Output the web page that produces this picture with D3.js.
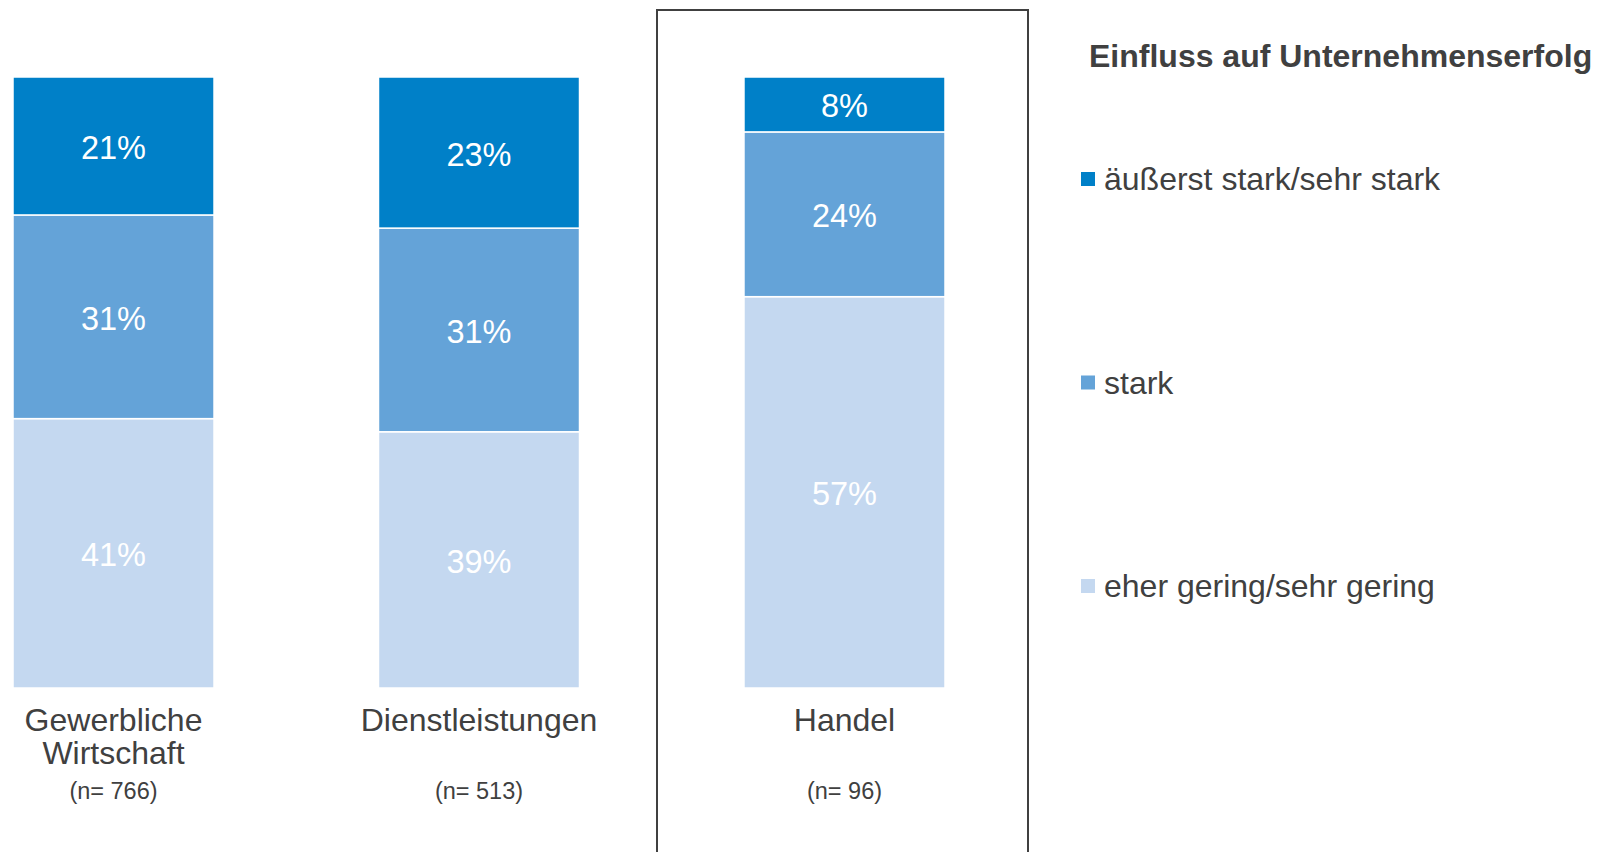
<!DOCTYPE html>
<html>
<head>
<meta charset="utf-8">
<script src="https://cdn.jsdelivr.net/npm/d3@7"></script>
<style>
  body { margin: 0; background: #fff; }
  svg { display: block; font-family: "Liberation Sans", Arial, sans-serif; }
</style>
</head>
<body>
<svg width="1600" height="852"></svg>
<script>
// data
var categories = ["Gewerbliche Wirtschaft", "Dienstleistungen", "Handel"];
var labelLines = [["Gewerbliche", "Wirtschaft"], ["Dienstleistungen"], ["Handel"]];
var sampleSizes = ["(n= 766)", "(n= 513)", "(n= 96)"];
var seriesNames = ["eher gering/sehr gering", "stark", "äußerst stark/sehr stark"];
var gering = [41, 39, 57];
var stark = [31, 31, 24];
var sehrStark = [21, 23, 8];
var legendTitle = "Einfluss auf Unternehmenserfolg";

var colors = ["#c4d8f0", "#64a3d8", "#0080c8"];
var textGrey = "#404040";

var svg = d3.select("svg");

var rows = categories.map(function (c, i) {
  return { cat: c, "eher gering/sehr gering": gering[i], "stark": stark[i], "äußerst stark/sehr stark": sehrStark[i] };
});

// bars are filled to 100% of the answers shown
var stacked = d3.stack().keys(seriesNames).offset(d3.stackOffsetExpand)(rows);

var x = d3.scaleBand()
  .domain(categories)
  .range([13, 945])
  .paddingInner(0.45)
  .paddingOuter(0);

var y = d3.scaleLinear().domain([0, 1]).range([688, 77]);

var color = d3.scaleOrdinal().domain(seriesNames).range(colors);

// frame around Handel
svg.append("rect")
  .attr("x", 657)
  .attr("y", 10)
  .attr("width", 371)
  .attr("height", 860)
  .attr("fill", "none")
  .attr("stroke", textGrey)
  .attr("stroke-width", 2);

var layers = svg.append("g")
  .selectAll("g")
  .data(stacked)
  .enter()
  .append("g")
  .attr("fill", function (d) { return color(d.key); });

layers.selectAll("rect")
  .data(function (d) { return d; })
  .enter()
  .append("rect")
  .attr("x", function (d) { return x(d.data.cat); })
  .attr("y", function (d) { return y(d[1]); })
  .attr("width", x.bandwidth())
  .attr("height", function (d) { return y(d[0]) - y(d[1]); })
  .attr("stroke", "#fff")
  .attr("stroke-width", 1.5);

// percentage labels
layers.each(function (layer) {
  d3.select(this).selectAll("text")
    .data(layer)
    .enter()
    .append("text")
    .attr("x", function (d) { return x(d.data.cat) + x.bandwidth() / 2; })
    .attr("y", function (d) { return (y(d[0]) + y(d[1])) / 2; })
    .attr("dy", "0.4em")
    .attr("text-anchor", "middle")
    .attr("fill", "#fff")
    .style("font-size", "32.5px")
    .text(function (d) { return d.data[layer.key] + "%"; });
});

// category labels
var catLabels = svg.append("g")
  .selectAll("text")
  .data(categories)
  .enter()
  .append("text")
  .attr("x", function (d) { return x(d) + x.bandwidth() / 2; })
  .attr("y", 731)
  .attr("text-anchor", "middle")
  .attr("fill", textGrey)
  .style("font-size", "32px");

catLabels.selectAll("tspan")
  .data(function (d, i) { return labelLines[i]; })
  .enter()
  .append("tspan")
  .attr("x", function () { var c = d3.select(this.parentNode).datum(); return x(c) + x.bandwidth() / 2; })
  .attr("dy", function (d, i) { return i === 0 ? 0 : 33; })
  .text(function (d) { return d; });

svg.append("g")
  .selectAll("text")
  .data(categories)
  .enter()
  .append("text")
  .attr("x", function (d) { return x(d) + x.bandwidth() / 2; })
  .attr("y", 799)
  .attr("text-anchor", "middle")
  .attr("fill", textGrey)
  .style("font-size", "23.5px")
  .text(function (d, i) { return sampleSizes[i]; });

// legend
svg.append("text")
  .attr("x", 1089)
  .attr("y", 67)
  .attr("fill", textGrey)
  .style("font-size", "32px")
  .style("font-weight", "bold")
  .text(legendTitle);

var legendOrder = seriesNames.slice().reverse();
var legendY = d3.scalePoint().domain(legendOrder).range([179, 586]);

var legend = svg.append("g")
  .selectAll("g")
  .data(legendOrder)
  .enter()
  .append("g")
  .attr("transform", function (d) { return "translate(1081," + legendY(d) + ")"; });

legend.append("rect")
  .attr("x", 0)
  .attr("y", -7)
  .attr("width", 14)
  .attr("height", 14)
  .attr("fill", function (d) { return color(d); });

legend.append("text")
  .attr("x", 23)
  .attr("y", 11)
  .attr("fill", textGrey)
  .style("font-size", "32px")
  .text(function (d) { return d; });
</script>
</body>
</html>
